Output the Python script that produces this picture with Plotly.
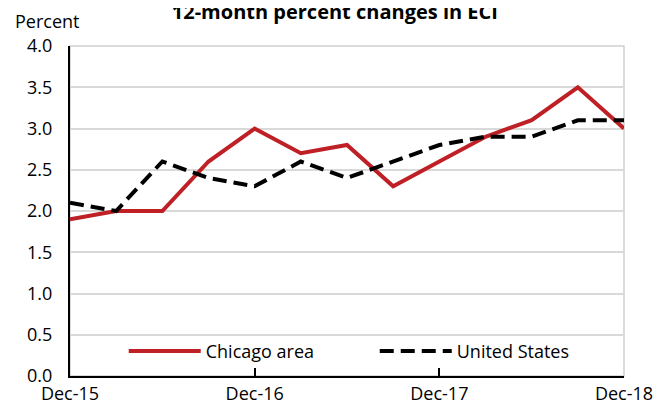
import plotly.graph_objects as go

quarters = ["Dec-15", "Mar-16", "Jun-16", "Sep-16", "Dec-16", "Mar-17", "Jun-17",
            "Sep-17", "Dec-17", "Mar-18", "Jun-18", "Sep-18", "Dec-18"]
chicago = [1.9, 2.0, 2.0, 2.6, 3.0, 2.7, 2.8, 2.3, 2.6, 2.9, 3.1, 3.5, 3.0]
us = [2.1, 2.0, 2.6, 2.4, 2.3, 2.6, 2.4, 2.6, 2.8, 2.9, 2.9, 3.1, 3.1]
tick_labels = ["Dec-15", "Dec-16", "Dec-17", "Dec-18"]

FONT = "Open Sans"
xs = list(range(len(quarters)))

# page body has an 8px margin, so the figure is sized 8px smaller
W, H = 659, 394

fig = go.Figure()
fig.add_trace(go.Scatter(x=xs, y=chicago, mode="lines", name="Chicago area",
                         line=dict(color="#BE2026", width=4)))
fig.add_trace(go.Scatter(x=xs, y=us, mode="lines", name="United States",
                         line=dict(color="black", width=4, dash="14px,7px")))

# light grey frame on top/right
fig.add_shape(type="rect", xref="paper", yref="paper", x0=0, x1=1, y0=0, y1=1,
              line=dict(color="#d0d0d0", width=1.5), layer="below")

fig.update_layout(
    width=W, height=H,
    margin=dict(l=62, r=43, t=38, b=26, autoexpand=False),
    paper_bgcolor="white", plot_bgcolor="white",
    font=dict(family=FONT, size=18, color="black"),
    title=dict(text="<b>12-month percent changes in ECI</b>", x=0.496, xanchor="center",
               y=0.99, yanchor="middle", font=dict(size=20)),
    showlegend=True,
    legend=dict(orientation="h", x=0.097, y=0.075, xanchor="left", yanchor="middle",
                bgcolor="rgba(0,0,0,0)", font=dict(size=18), itemwidth=72,
                entrywidth=164, traceorder="normal"),
    annotations=[dict(text="Percent", xref="paper", yref="paper", x=-0.042, y=1.075,
                      xanchor="center", yanchor="middle", showarrow=False,
                      font=dict(size=18))],
)

fig.update_xaxes(range=[0, 12], tickvals=[0, 4, 8, 12], ticktext=tick_labels,
                 showgrid=False, showline=True, linecolor="black", linewidth=2,
                 ticks="inside", ticklen=8, tickwidth=2, tickcolor="black",
                 zeroline=False, automargin=False, tickfont=dict(size=18))
fig.update_yaxes(range=[0, 4], dtick=0.5, tickformat=".1f", showgrid=True,
                 gridcolor="#d9d9d9", gridwidth=1.5, showline=True, linecolor="black",
                 linewidth=2, zeroline=False, ticks="", automargin=False,
                 ticklabelstandoff=12, tickfont=dict(size=18))

fig.write_html("out.html")
